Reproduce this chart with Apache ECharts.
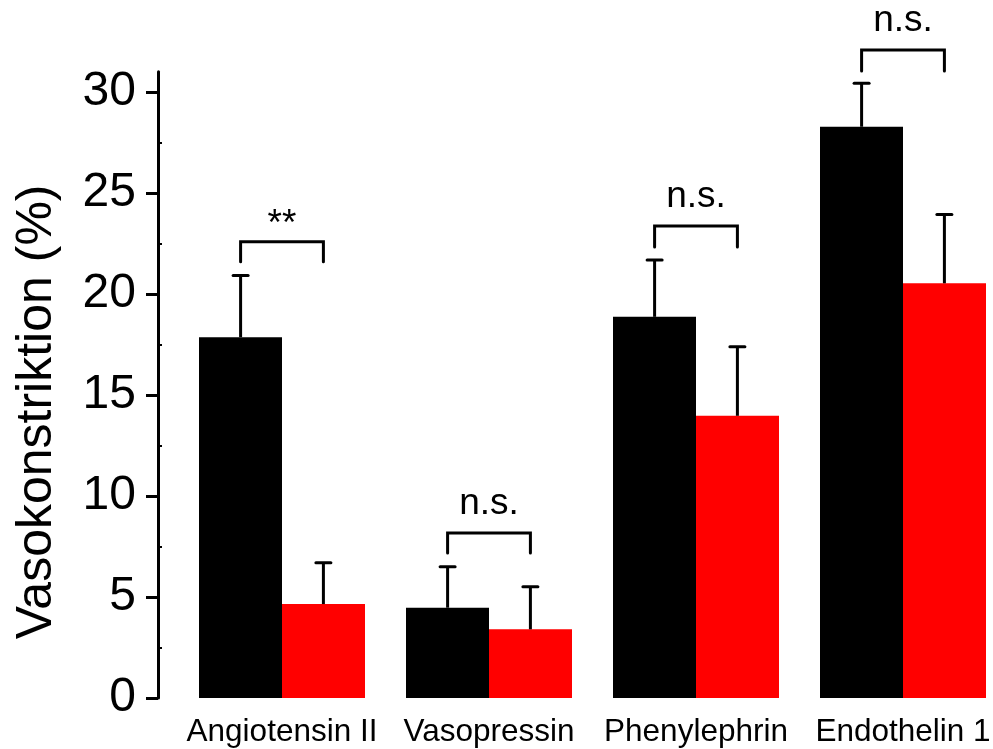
<!DOCTYPE html>
<html><head><meta charset="utf-8">
<script src="https://cdn.jsdelivr.net/npm/echarts@6/dist/echarts.min.js"></script>
<style>html,body{margin:0;padding:0;background:#fff}#c{width:993px;height:749px}</style>
</head><body><div id="c"></div>
<script>
const categories = ['Angiotensin II', 'Vasopressin', 'Phenylephrin', 'Endothelin 1'];
const blackValues = [17.86, 4.47, 18.87, 28.28];
const blackErrTop = [20.91, 6.50, 21.68, 30.43];
const redValues = [4.65, 3.40, 13.97, 20.53];
const redErrTop = [6.70, 5.51, 17.39, 23.94];
const sigLabels = ['**', 'n.s.', 'n.s.', 'n.s.'];
const bracketTop = [22.59, 8.17, 23.37, 32.08];
const bracketLeg = [21.60, 7.18, 22.33, 31.04];
const yTicks = [0, 5, 10, 15, 20, 25, 30];
const yTitle = 'Vasokonstriktion (%)';

const FONT = '"Liberation Sans", Arial, sans-serif';

function errRender(side) {
  return function (params, api) {
    const i = api.value(0);
    const band = api.size([1, 0])[0];
    const dx = side * band * 0.2;
    const p0 = api.coord([i, api.value(1)]);
    const p1 = api.coord([i, api.value(2)]);
    const x = p0[0] + dx;
    const cap = 7.5;
    return {
      type: 'group',
      children: [
        { type: 'line', shape: { x1: x, y1: p0[1], x2: x, y2: p1[1] }, style: { stroke: '#000', lineWidth: 3 } },
        { type: 'line', shape: { x1: x - cap, y1: p1[1], x2: x + cap, y2: p1[1] }, style: { stroke: '#000', lineWidth: 3, lineCap: 'round' } }
      ]
    };
  };
}

function bracketRender(params, api) {
  const i = api.value(0);
  const band = api.size([1, 0])[0];
  const c = api.coord([i, api.value(1)]);
  const l = api.coord([i, api.value(2)]);
  const x1 = c[0] - band * 0.2, x2 = c[0] + band * 0.2;
  const label = sigLabels[params.dataIndex];
  const isStar = /^\*+$/.test(label);
  return {
    type: 'group',
    children: [
      { type: 'polyline', shape: { points: [[x1, l[1]], [x1, c[1]], [x2, c[1]], [x2, l[1]]] },
        style: { stroke: '#000', lineWidth: 3, fill: null, lineCap: 'round', lineJoin: 'miter' } },
      { type: 'text', x: c[0], y: c[1] - (isStar ? 17 : 29),
        style: { text: label, fontSize: 37, fontFamily: FONT, fill: '#000', align: 'center', verticalAlign: 'middle' } }
    ]
  };
}

const chart = echarts.init(document.getElementById('c'), null, { renderer: 'canvas' });
chart.setOption({
  animation: false,
  backgroundColor: '#fff',
  textStyle: { fontFamily: FONT },
  grid: { left: 178.5, top: 71.8, width: 828, height: 626.2, containLabel: false, outerBoundsMode: 'none' },
  xAxis: {
    type: 'category',
    data: categories,
    axisLine: { show: false },
    axisTick: { show: false },
    axisLabel: { interval: 0, fontSize: 31.5, color: '#000', margin: 18, fontFamily: FONT }
  },
  yAxis: {
    type: 'value',
    min: 0, max: 31, interval: 5,
    offset: 20.5,
    name: yTitle,
    nameLocation: 'middle',
    nameGap: 96,
    nameTextStyle: { fontSize: 50, color: '#000', fontFamily: FONT, padding: [0, 54, 0, 0] },
    axisLine: { show: true, lineStyle: { color: '#000', width: 3 } },
    axisTick: { show: true, length: 12, customValues: yTicks, lineStyle: { color: '#000', width: 3 } },
    minorTick: { show: true, splitNumber: 2, length: -4, lineStyle: { color: '#000', width: 2 } },
    axisLabel: { customValues: yTicks, fontSize: 48, margin: 22, color: '#000', fontFamily: FONT },
    splitLine: { show: false }
  },
  series: [
    { type: 'bar', data: blackValues, barWidth: 83, barGap: '0%', itemStyle: { color: '#000000' } },
    { type: 'bar', data: redValues, barWidth: 83, barGap: '0%', itemStyle: { color: '#ff0000' } },
    { type: 'custom', renderItem: errRender(-1), clip: false,
      data: categories.map((c, i) => [i, blackValues[i], blackErrTop[i]]), z: 5 },
    { type: 'custom', renderItem: errRender(1), clip: false,
      data: categories.map((c, i) => [i, redValues[i], redErrTop[i]]), z: 5 },
    { type: 'custom', renderItem: bracketRender, clip: false,
      data: categories.map((c, i) => [i, bracketTop[i], bracketLeg[i]]), z: 5 }
  ]
});
</script>
</body></html>
